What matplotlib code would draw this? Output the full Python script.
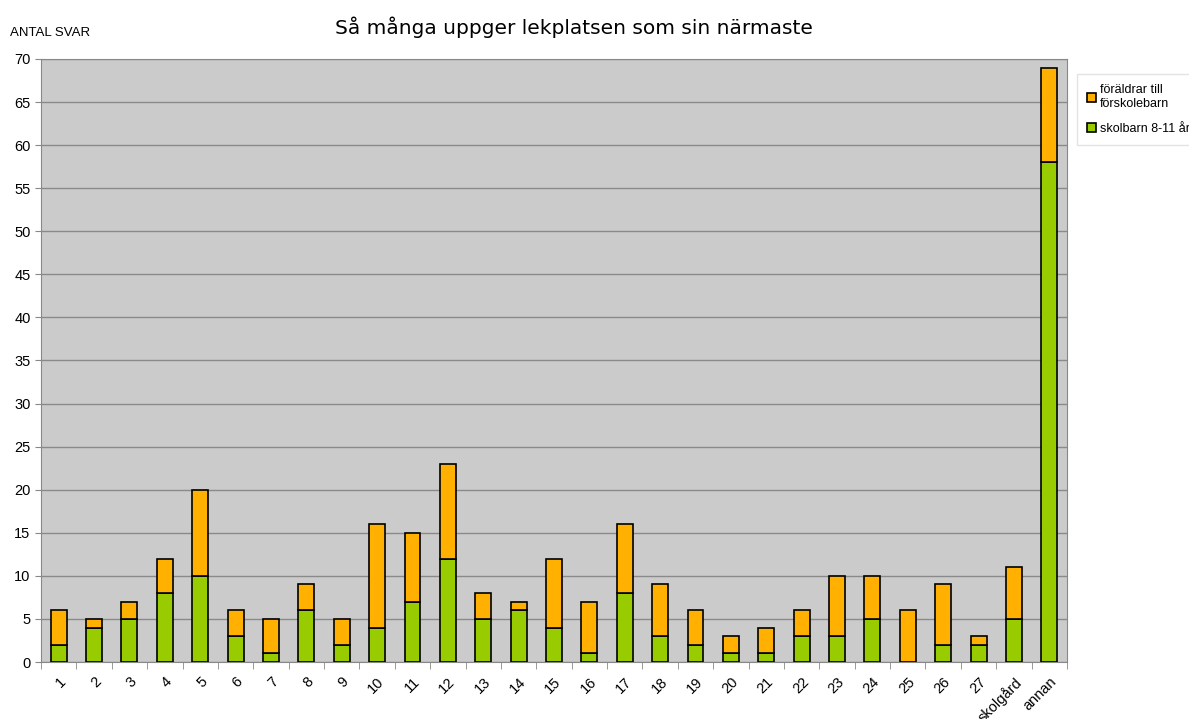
import matplotlib.pyplot as plt
import numpy as np

plt.rcParams['font.family'] = ['Liberation Sans', 'DejaVu Sans']

# DATA
categories = [str(i) for i in range(1, 28)] + ['skolgård', 'annan']
skolbarn = [2, 4, 5, 8, 10, 3, 1, 6, 2, 4, 7, 12, 5, 6, 4, 1, 8, 3, 2, 1, 1, 3, 3, 5, 0, 2, 2, 5, 58]
totals = [6, 5, 7, 12, 20, 6, 5, 9, 5, 16, 15, 23, 8, 7, 12, 7, 16, 9, 6, 3, 4, 6, 10, 10, 6, 9, 3, 11, 69]
foraldrar = [t - s for t, s in zip(totals, skolbarn)]

c_orange = '#ffb000'
c_green = '#99cc00'

fig = plt.figure(figsize=(11.89, 7.19), dpi=100)
ax = fig.add_axes([41/1189, 1-662/719, (1067-41)/1189, (662-59)/719])
ax.set_facecolor('#cbcbcb')

x = np.arange(len(categories))
ax.bar(x, skolbarn, width=0.45, color=c_green, edgecolor='black', linewidth=1.2,
       label='skolbarn 8-11 år', zorder=3)
ax.bar(x, foraldrar, bottom=skolbarn, width=0.45, color=c_orange, edgecolor='black',
       linewidth=1.2, label='föräldrar till\nförskolebarn', zorder=3)

ax.set_xlim(-0.5, len(categories) - 0.5)
ax.set_ylim(0, 70)
ax.set_yticks(np.arange(0, 71, 5))
ax.yaxis.grid(True, color='#8a8a8a', linewidth=1, zorder=1)
ax.tick_params(axis='y', labelsize=10.5, length=4, color='#888888')
ax.set_xticks(x)
ax.set_xticklabels(categories, rotation=45, ha='right', rotation_mode='anchor', fontsize=10.5)
ax.tick_params(axis='x', length=0, pad=9)
ax.set_xticks(np.arange(-0.5, len(categories)), minor=True)
ax.tick_params(axis='x', which='minor', length=5, color='#888888')
for s in ax.spines.values():
    s.set_color('#888888')

fig.text(10/1189, 1-33/719, 'ANTAL SVAR', fontsize=9.5, va='center')
fig.text(574/1189, 1-27/719, 'Så många uppger lekplatsen som sin närmaste',
         fontsize=14.5, ha='center', va='center', family='DejaVu Sans')

h, l = ax.get_legend_handles_labels()
fig.legend(h[::-1], l[::-1], loc='upper left', bbox_to_anchor=(1071/1189, 1-68/719),
           fontsize=9, frameon=True, fancybox=False, edgecolor='#dddddd',
           handlelength=0.7, handleheight=0.7, handletextpad=0.3, labelspacing=1.0,
           borderpad=0.8)

fig.savefig('out.png', dpi=100)
